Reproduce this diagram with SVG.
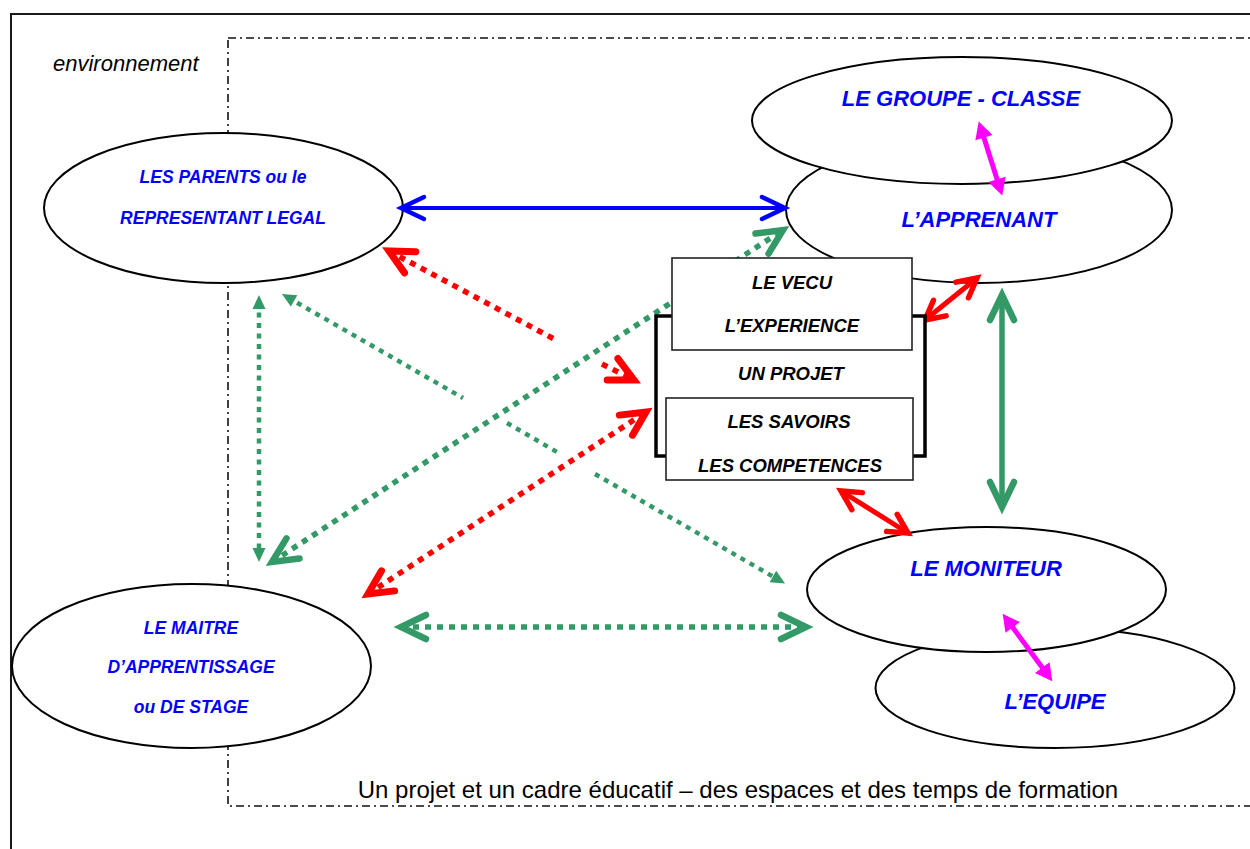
<svg xmlns="http://www.w3.org/2000/svg" width="1250" height="849" viewBox="0 0 1250 849">
  <style>
    .frame { fill: none; stroke: #1a1a1a; stroke-width: 2; }
    .env { fill: none; stroke: #111; stroke-width: 1.6; stroke-dasharray: 8 4 2 4; }
    .node { fill: #fff; stroke: #000; stroke-width: 2; }
    .lbl { font-family: "Liberation Sans", Arial, sans-serif; font-weight: bold; font-style: italic; fill: #0000ff; text-anchor: middle; }
    .big { font-size: 22px; }
    .small { font-size: 17.5px; }
    .core { font-family: "Liberation Sans", Arial, sans-serif; font-weight: bold; font-style: italic; font-size: 18.5px; fill: #000; text-anchor: middle; }
    .plain { font-family: "Liberation Sans", Arial, sans-serif; fill: #000; }
    .box { fill: #fff; stroke: #222; stroke-width: 1.6; }
    .bracket { fill: #fff; stroke: #000; stroke-width: 3.5; }
    .blue { fill: none; stroke: #0000ff; stroke-width: 4; }
    .red-dot { fill: none; stroke: #ff0000; stroke-width: 5.5; stroke-dasharray: 6 6; }
    .red { fill: none; stroke: #ff0000; stroke-width: 5; }
    .green { fill: none; stroke: #339966; stroke-width: 5.5; }
    .green-dot { fill: none; stroke: #339966; stroke-width: 5.5; stroke-dasharray: 6 6; }
    .green-fine { fill: none; stroke: #339966; stroke-width: 4.5; stroke-dasharray: 5 5.5; }
    .mag { fill: none; stroke: #ff00ff; stroke-width: 5; }
  </style>
  <defs>
    <marker id="hBlue" markerUnits="userSpaceOnUse" orient="auto-start-reverse" overflow="visible" markerWidth="1" markerHeight="1">
      <path d="M-23 -11 L0 0 L-23 11" fill="none" stroke="#0000ff" stroke-width="4.5" stroke-linecap="round"/>
    </marker>
    <marker id="hRed" markerUnits="userSpaceOnUse" orient="auto-start-reverse" overflow="visible" markerWidth="1" markerHeight="1">
      <path d="M-24 -12 L0 0 L-24 12" fill="none" stroke="#ff0000" stroke-width="7" stroke-linecap="round"/>
    </marker>
    <marker id="hRedS" markerUnits="userSpaceOnUse" orient="auto-start-reverse" overflow="visible" markerWidth="1" markerHeight="1">
      <path d="M-19 -10 L0 0 L-19 10" fill="none" stroke="#ff0000" stroke-width="5.5" stroke-linecap="round"/>
    </marker>
    <marker id="hGreen" markerUnits="userSpaceOnUse" orient="auto-start-reverse" overflow="visible" markerWidth="1" markerHeight="1">
      <path d="M-25 -12 L0 0 L-25 12" fill="none" stroke="#339966" stroke-width="6.5" stroke-linecap="round"/>
    </marker>
    <marker id="tGreen" markerUnits="userSpaceOnUse" orient="auto-start-reverse" overflow="visible" markerWidth="1" markerHeight="1">
      <path d="M-7 -6.5 L7 0 L-7 6.5 Z" fill="#339966"/>
    </marker>
    <marker id="tMag" markerUnits="userSpaceOnUse" orient="auto-start-reverse" overflow="visible" markerWidth="1" markerHeight="1">
      <path d="M-8 -9 L9 0 L-8 9 Z" fill="#ff00ff"/>
    </marker>
  </defs>

  <!-- page frame and the dash-dot boundary of the learning space -->
  <rect class="frame" x="11" y="14" width="1300" height="900"/>
  <rect class="env" x="228" y="38" width="1100" height="768"/>
  <text class="plain" x="53" y="71" font-size="22" font-style="italic">environnement</text>
  <text class="plain" x="738" y="798" font-size="24" text-anchor="middle">Un projet et un cadre éducatif – des espaces et des temps de formation</text>

  <!-- actors -->
  <g id="apprenant">
    <ellipse class="node" cx="979" cy="210" rx="193" ry="73"/>
    <text class="lbl big" x="979" y="227">L’APPRENANT</text>
  </g>
  <g id="groupe-classe">
    <ellipse class="node" cx="962" cy="120.5" rx="210" ry="63.5"/>
    <text class="lbl big" x="961" y="106">LE GROUPE - CLASSE</text>
  </g>
  <g id="equipe">
    <ellipse class="node" cx="1055" cy="688" rx="179.5" ry="60"/>
    <text class="lbl big" x="1055" y="709">L’EQUIPE</text>
  </g>
  <g id="moniteur">
    <ellipse class="node" cx="986.5" cy="589.5" rx="179.5" ry="62.5"/>
    <text class="lbl big" x="986" y="576">LE MONITEUR</text>
  </g>
  <g id="parents">
    <ellipse class="node" cx="223.5" cy="208" rx="179.5" ry="75"/>
    <text class="lbl small" x="223" y="183">LES PARENTS ou le</text>
    <text class="lbl small" x="223" y="224">REPRESENTANT LEGAL</text>
  </g>
  <g id="maitre">
    <ellipse class="node" cx="191.5" cy="666" rx="179.5" ry="82"/>
    <text class="lbl small" x="191" y="634">LE MAITRE</text>
    <text class="lbl small" x="191" y="673">D’APPRENTISSAGE</text>
    <text class="lbl small" x="191" y="713">ou DE STAGE</text>
  </g>

  <!-- relations between the actors -->
  <g id="connectors">
    <line class="blue" x1="401" y1="208" x2="785" y2="208" marker-start="url(#hBlue)" marker-end="url(#hBlue)"/>
    <line class="red-dot" x1="389" y1="251" x2="556" y2="340" marker-start="url(#hRed)"/>
    <line class="red-dot" x1="602" y1="364" x2="634" y2="380" marker-end="url(#hRed)"/>
    <line class="red-dot" x1="368" y1="594" x2="646" y2="412" marker-start="url(#hRed)" marker-end="url(#hRed)"/>
    <line class="red" x1="925" y1="320" x2="977" y2="278" marker-start="url(#hRedS)" marker-end="url(#hRedS)"/>
    <line class="red" x1="841" y1="491" x2="908" y2="533" marker-start="url(#hRedS)" marker-end="url(#hRedS)"/>
    <line class="green" x1="1002" y1="295" x2="1002" y2="507" marker-start="url(#hGreen)" marker-end="url(#hGreen)"/>
    <line class="green-dot" x1="272" y1="562" x2="783" y2="230" marker-start="url(#hGreen)" marker-end="url(#hGreen)"/>
    <line class="green-dot" x1="401" y1="627" x2="806" y2="627" marker-start="url(#hGreen)" marker-end="url(#hGreen)"/>
    <line class="green-fine" x1="259" y1="302" x2="259" y2="555" marker-start="url(#tGreen)" marker-end="url(#tGreen)"/>
    <line class="green-fine" x1="288" y1="297.5" x2="463" y2="398" marker-start="url(#tGreen)"/>
    <line class="green-fine" x1="507" y1="423" x2="557" y2="452"/>
    <line class="green-fine" x1="595" y1="474" x2="779" y2="580" marker-end="url(#tGreen)"/>
    <line class="mag" x1="981.5" y1="130" x2="999.5" y2="187" marker-start="url(#tMag)" marker-end="url(#tMag)"/>
    <line class="mag" x1="1008" y1="621" x2="1047" y2="674" marker-start="url(#tMag)" marker-end="url(#tMag)"/>
  </g>

  <!-- the project at the centre -->
  <g id="projet">
    <rect class="bracket" x="656" y="316" width="269" height="140"/>
    <text class="core" x="791" y="380">UN PROJET</text>
  </g>
  <g id="vecu">
    <rect class="box" x="672" y="258" width="240" height="92"/>
    <text class="core" x="792" y="289">LE VECU</text>
    <text class="core" x="792" y="332">L’EXPERIENCE</text>
  </g>
  <g id="savoirs">
    <rect class="box" x="666" y="398" width="247" height="82"/>
    <text class="core" x="789" y="428">LES SAVOIRS</text>
    <text class="core" x="790" y="472">LES COMPETENCES</text>
  </g>
</svg>
